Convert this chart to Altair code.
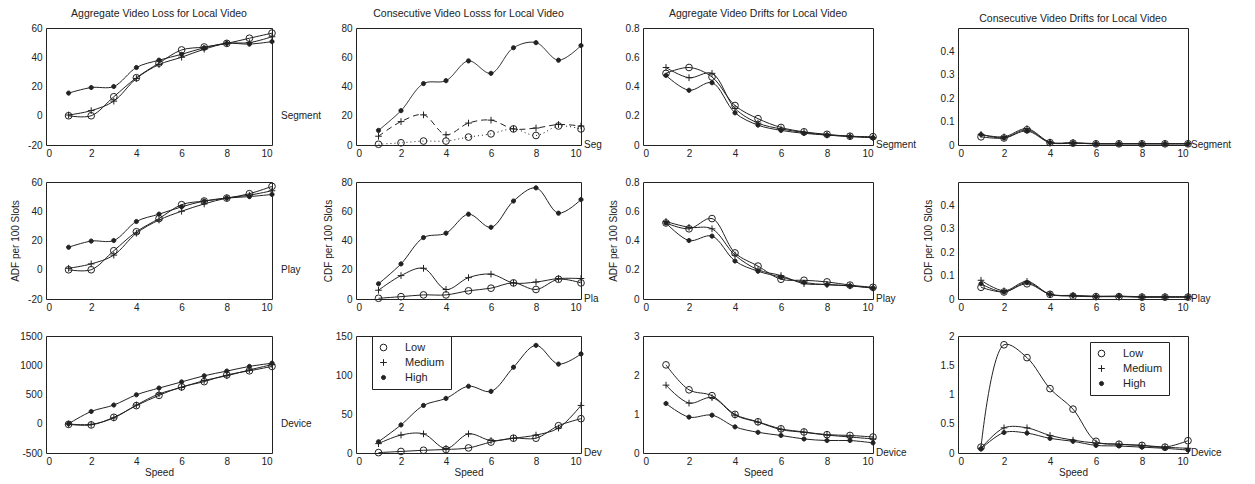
import altair as alt
import pandas as pd

SPEED = [1, 2, 3, 4, 5, 6, 7, 8, 9, 10]
SERIES = ["Low", "Medium", "High"]

COL_TITLES = [
    "Aggregate Video Loss for Local Video",
    "Consecutive Video Losss for Local Video",
    "Aggregate Video Drifts for Local Video",
    "Consecutive Video Drifts for Local Video",
]
ROW_LABELS = ["Segment", "Play", "Device"]
Y_TITLES = ["ADF per 100 Slots", "CDF per 100 Slots", "ADF per 100 Slots", "CDF per 100 Slots"]
X_TITLE = "Speed"

# Aggregate video loss (column 1)
AVL_SEGMENT = {"Low": [0, 0, 13, 26, 36, 45, 47, 49.5, 53, 56.5],
               "Medium": [0.5, 3.5, 10, 25.5, 35, 40, 45.5, 49.5, 50, 54],
               "High": [15.5, 19.3, 20, 33, 38, 42, 46.5, 49.5, 49, 50.7]}
AVL_PLAY = {"Low": [0, 0, 13, 26, 35, 44.5, 47, 49, 52, 57],
            "Medium": [1, 4, 10, 25, 34, 40, 45, 49, 51, 54],
            "High": [15.4, 19.6, 20, 33, 38, 43, 47, 49, 50, 51.5]}
AVL_DEVICE = {"Low": [-10, -20, 110, 310, 485, 630, 720, 835, 905, 980],
              "Medium": [-5, -10, 100, 320, 510, 620, 740, 820, 920, 1010],
              "High": [0, 210, 320, 495, 610, 715, 820, 900, 980, 1035]}

# Consecutive video loss (column 2)
CVL_SEGMENT = {"Low": [0.5, 1.5, 2.7, 2.7, 5.4, 7.6, 11, 6.5, 13, 11],
               "Medium": [6, 16, 20.6, 7, 15, 17, 11, 11.6, 14, 13],
               "High": [10, 23.5, 42, 44, 57.5, 49, 66.5, 70, 58, 68]}
CVL_PLAY = {"Low": [0.5, 1.6, 2.8, 2.8, 5.6, 7.4, 11, 6.5, 13.5, 11],
            "Medium": [6, 16, 21, 6.5, 14.6, 17, 11, 11.6, 14, 14],
            "High": [10.4, 24, 42, 45, 58, 49, 67, 76, 58.7, 68]}
CVL_DEVICE = {"Low": [0.5, 2, 3.5, 4.5, 6.5, 14, 19, 19, 35, 44],
              "Medium": [12, 23, 24.5, 5.7, 24.5, 16, 19, 23, 32, 61],
              "High": [14.4, 36, 61, 70, 85.6, 79, 110, 138, 114, 127]}

# Aggregate video drifts (column 3)
AVD_SEGMENT = {"Low": [0.49, 0.53, 0.465, 0.27, 0.18, 0.12, 0.09, 0.073, 0.06, 0.057],
               "Medium": [0.53, 0.46, 0.49, 0.25, 0.15, 0.11, 0.086, 0.068, 0.06, 0.05],
               "High": [0.476, 0.374, 0.426, 0.22, 0.136, 0.1, 0.08, 0.068, 0.057, 0.05]}
AVD_PLAY = {"Low": [0.52, 0.48, 0.55, 0.315, 0.225, 0.135, 0.128, 0.117, 0.095, 0.08],
            "Medium": [0.53, 0.49, 0.48, 0.30, 0.2, 0.16, 0.105, 0.1, 0.09, 0.075],
            "High": [0.52, 0.40, 0.43, 0.26, 0.19, 0.15, 0.113, 0.097, 0.09, 0.075]}
AVD_DEVICE = {"Low": [2.26, 1.62, 1.47, 0.99, 0.8, 0.62, 0.54, 0.47, 0.45, 0.41],
              "Medium": [1.74, 1.28, 1.42, 0.97, 0.79, 0.6, 0.53, 0.46, 0.41, 0.36],
              "High": [1.27, 0.92, 0.97, 0.67, 0.53, 0.45, 0.36, 0.32, 0.32, 0.26]}

# Consecutive video drifts (column 4)
CVD_SEGMENT = {"Low": [0.035, 0.03, 0.065, 0.01, 0.008, 0.005, 0.005, 0.005, 0.005, 0.005],
               "Medium": [0.045, 0.035, 0.07, 0.012, 0.01, 0.006, 0.006, 0.006, 0.006, 0.006],
               "High": [0.045, 0.03, 0.06, 0.01, 0.008, 0.005, 0.005, 0.005, 0.005, 0.005]}
CVD_PLAY = {"Low": [0.05, 0.03, 0.065, 0.02, 0.012, 0.01, 0.01, 0.008, 0.008, 0.008],
            "Medium": [0.08, 0.035, 0.075, 0.02, 0.015, 0.012, 0.012, 0.01, 0.01, 0.01],
            "High": [0.065, 0.03, 0.07, 0.02, 0.015, 0.01, 0.012, 0.008, 0.008, 0.008]}
CVD_DEVICE = {"Low": [0.1, 1.85, 1.63, 1.1, 0.75, 0.2, 0.15, 0.13, 0.1, 0.21],
              "Medium": [0.08, 0.43, 0.43, 0.3, 0.22, 0.17, 0.15, 0.13, 0.1, 0.08],
              "High": [0.07, 0.35, 0.34, 0.25, 0.2, 0.13, 0.12, 0.1, 0.08, 0.05]}

PANELS = [
    [AVL_SEGMENT, CVL_SEGMENT, AVD_SEGMENT, CVD_SEGMENT],
    [AVL_PLAY, CVL_PLAY, AVD_PLAY, CVD_PLAY],
    [AVL_DEVICE, CVL_DEVICE, AVD_DEVICE, CVD_DEVICE],
]
Y_DOMAINS = [
    [[-20, 60], [0, 80], [0, 0.8], [0, 0.5]],
    [[-20, 60], [0, 80], [0, 0.8], [0, 0.5]],
    [[-500, 1500], [0, 150], [0, 3], [0, 2]],
]
Y_TICKS = [
    [[-20, 0, 20, 40, 60], [0, 20, 40, 60, 80], [0, 0.2, 0.4, 0.6, 0.8], [0, 0.1, 0.2, 0.3, 0.4]],
    [[-20, 0, 20, 40, 60], [0, 20, 40, 60, 80], [0, 0.2, 0.4, 0.6, 0.8], [0, 0.1, 0.2, 0.3, 0.4]],
    [[-500, 0, 500, 1000, 1500], [0, 50, 100, 150], [0, 1, 2, 3], [0, 0.5, 1, 1.5, 2]],
]
X_TICKS = [0, 2, 4, 6, 8, 10]

# layout (pixels)
WIDTHS = [226, 225, 230, 230]
GAPS = [84, 62, 85]
H = 117
ROW_GAP = 37
LABEL_DX = [9, 3, 3, 3]
LEGENDS = {(2, 1): (16, 0), (2, 3): (132, 6)}

INK = "#222222"
FONT = "Liberation Sans"
PLUS = "M-1,0L1,0M0,-1L0,1"
DOT = "M-0.62,0A0.62,0.62,0,1,0,0.62,0A0.62,0.62,0,1,0,-0.62,0Z"


def make_panel(r, c):
    data = PANELS[r][c]
    rows = []
    for s in SERIES:
        for xv, yv in zip(SPEED, data[s]):
            rows.append({"speed": xv, "value": yv, "series": s})
    df = pd.DataFrame(rows)
    base = alt.Chart(df)
    x = alt.X("speed:Q", scale=alt.Scale(domain=[0, 10], nice=False),
              axis=alt.Axis(values=X_TICKS, tickCount=20, labelExpr="toString(datum.value)",
                            labelOverlap=False, title=X_TITLE if r == 2 else None))
    y = alt.Y("value:Q", scale=alt.Scale(domain=Y_DOMAINS[r][c], nice=False, zero=False),
              axis=alt.Axis(values=Y_TICKS[r][c], tickCount=20, labelExpr="toString(datum.value)",
                            labelOverlap=False, labelSeparation=0,
                            title=Y_TITLES[c] if r == 1 else None))
    if (r, c) == (0, 1):
        lines = base.mark_line(interpolate="catmull-rom", strokeWidth=1, color=INK).encode(
            x=x, y=y, detail="series:N",
            strokeDash=alt.StrokeDash("series:N", scale=alt.Scale(domain=SERIES, range=[[1, 3], [6, 4], [1, 0]]), legend=None))
    else:
        lines = base.mark_line(interpolate="catmull-rom", strokeWidth=1, color=INK).encode(
            x=x, y=y, detail="series:N")
    if (r, c) in LEGENDS:
        lx, ly = LEGENDS[(r, c)]
        leg = alt.Legend(title=None, orient="none", legendX=lx, legendY=ly,
                         strokeColor=INK, fillColor="white", padding=6,
                         labelFontSize=11, labelFont=FONT, labelColor=INK, labelOffset=16,
                         symbolSize=45, symbolStrokeColor=INK, symbolStrokeWidth=1,
                         symbolOpacity=1, rowPadding=3, cornerRadius=0)
    else:
        leg = None
    points = base.mark_point(filled=False, strokeWidth=1, opacity=1, size=45).encode(
        x=x, y=y,
        shape=alt.Shape("series:N", scale=alt.Scale(domain=SERIES, range=["circle", PLUS, DOT]), legend=leg),
        fill=alt.Fill("series:N", scale=alt.Scale(domain=SERIES, range=["transparent", "transparent", INK]), legend=leg),
        stroke=alt.Stroke("series:N", scale=alt.Scale(domain=SERIES, range=[INK, INK, INK]), legend=leg),
    )
    label = alt.Chart(pd.DataFrame({"t": [ROW_LABELS[r]]})).mark_text(
        align="left", baseline="middle", dx=LABEL_DX[c], fontSize=10, font=FONT, color=INK,
        limit=19 if c == 1 else 200, ellipsis="\u200b").encode(
        x=alt.datum(10), y=alt.datum(0), text="t:N")
    layer = alt.layer(lines, points, label).properties(width=WIDTHS[c], height=H)
    if r == 0:
        layer = layer.properties(title=alt.TitleParams(COL_TITLES[c], frame="group"))
    return layer


def spacer(w):
    return alt.Chart(pd.DataFrame({"v": [0]})).mark_point(opacity=0).encode(
        x=alt.X("v:Q", axis=None), y=alt.Y("v:Q", axis=None)
    ).properties(width=w, height=H, view=alt.ViewBackground(stroke="transparent"))


cells = []
for r in range(3):
    for c in range(4):
        cells.append(make_panel(r, c))
        if c < 3:
            cells.append(spacer(GAPS[c]))

chart = alt.concat(*cells, columns=7, spacing={"row": ROW_GAP, "column": 0},
                   bounds="flush", align="each").resolve_scale(
    shape="independent", fill="independent", stroke="independent", strokeDash="independent"
).resolve_legend(shape="independent", fill="independent", stroke="independent").properties(
    padding={"left": 2, "top": 0, "right": 0, "bottom": 0}
).configure_view(stroke=INK, strokeWidth=1).configure_axis(
    domain=False, ticks=False, grid=False, labelFontSize=10, labelFont=FONT, labelColor=INK,
    labelPadding=4, labelOverlap=False, titleFont=FONT, titleFontSize=10, titleFontWeight="normal",
    titleColor=INK, titlePadding=7
).configure_axisX(labelPadding=3, titlePadding=1).configure_title(
    font=FONT, fontSize=10.5, fontWeight="normal", color=INK, offset=4
)

chart.save("out.html", embed_options={"renderer": "svg", "actions": False})
